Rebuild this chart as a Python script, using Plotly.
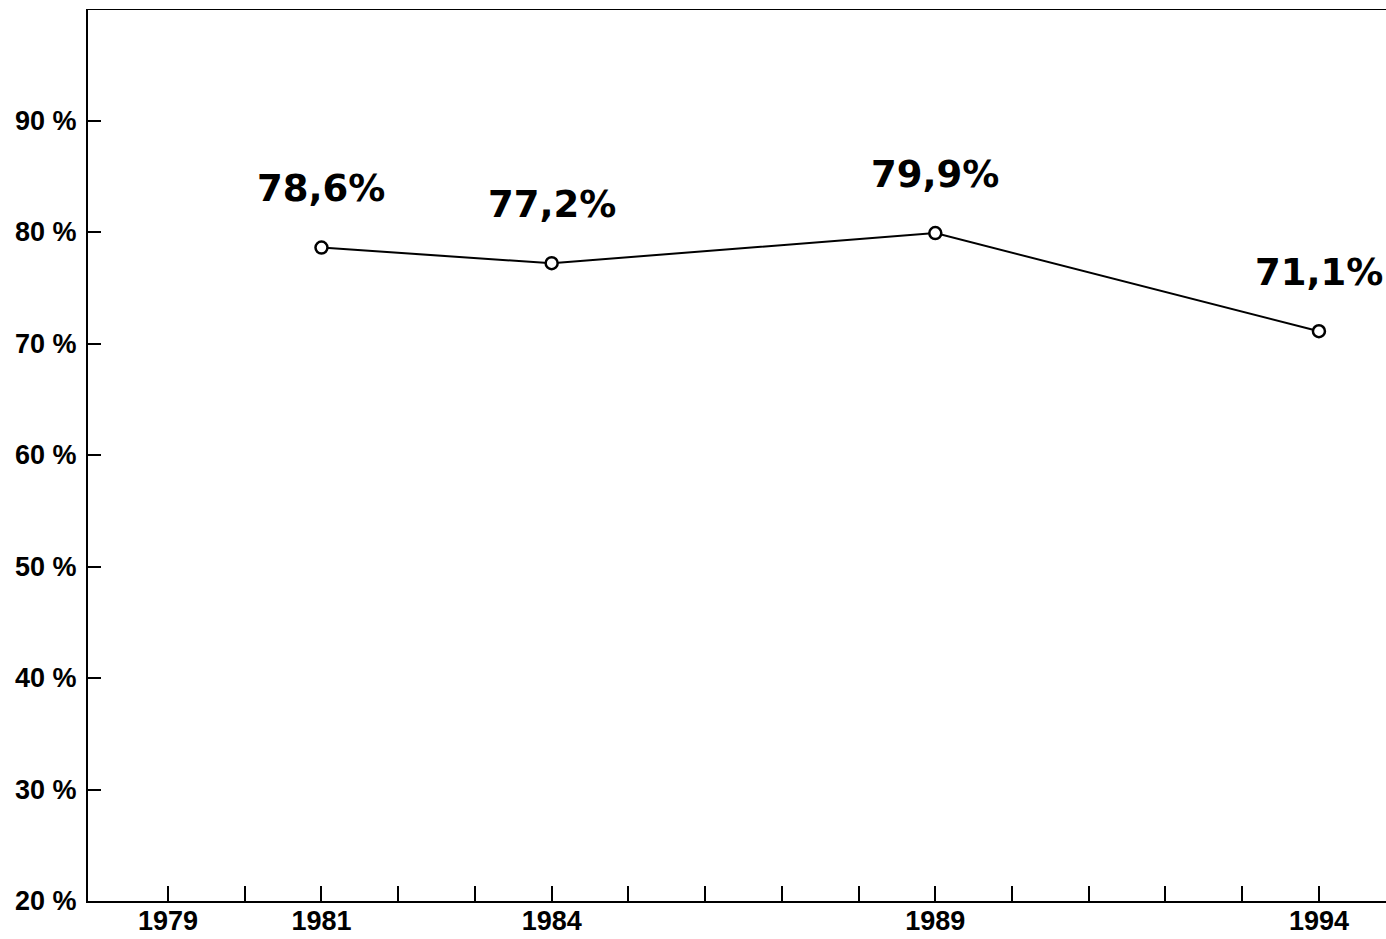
import plotly.graph_objects as go

# Survey years and the share recorded in each
years = [1981, 1984, 1989, 1994]
shares = [78.6, 77.2, 79.9, 71.1]
share_labels = ["78,6%", "77,2%", "79,9%", "71,1%"]

# Axis ticks
x_tick_years = list(range(1979, 1995))
x_labelled_years = [1979, 1981, 1984, 1989, 1994]
y_tick_values = [20, 30, 40, 50, 60, 70, 80, 90]
y_tick_labels = [f"{v} %" for v in y_tick_values]

fig = go.Figure()
fig.add_trace(go.Scatter(
    x=years,
    y=shares,
    mode="lines+markers",
    line=dict(color="black", width=2),
    marker=dict(symbol="circle", size=12, color="white",
                line=dict(color="black", width=2.5)),
    hoverinfo="skip",
    showlegend=False,
))

for yr, val, lab in zip(years, shares, share_labels):
    fig.add_annotation(
        x=yr, y=val, text=lab, showarrow=False,
        xanchor="center", yanchor="middle", yshift=59,
        font=dict(family="DejaVu Sans", size=37, color="black", weight="bold"),
    )

# Frame line along the top of the plotting area
fig.add_shape(type="line", xref="paper", yref="y", x0=0, x1=1, y0=100, y1=100,
              line=dict(color="black", width=2))

fig.update_layout(
    width=1386, height=939,
    margin=dict(l=88, r=0, t=9, b=38),
    paper_bgcolor="white", plot_bgcolor="white",
    font=dict(family="Liberation Sans", color="black"),
)
fig.update_xaxes(
    range=[1977.957, 1994.874],
    tickmode="array",
    tickvals=x_tick_years,
    ticktext=[str(y) if y in x_labelled_years else "" for y in x_tick_years],
    ticks="inside", ticklen=15, tickwidth=2, tickcolor="black",
    ticklabelstandoff=-5,
    showline=True, linecolor="black", linewidth=2,
    showgrid=False, zeroline=False,
    tickfont=dict(family="Liberation Sans", size=27, color="black", weight="bold"),
)
fig.update_yaxes(
    range=[20, 100],
    tickmode="array",
    tickvals=y_tick_values,
    ticktext=y_tick_labels,
    ticks="inside", ticklen=13, tickwidth=2, tickcolor="black",
    ticklabelstandoff=4,
    showline=True, linecolor="black", linewidth=2,
    showgrid=False, zeroline=False,
    tickfont=dict(family="Liberation Sans", size=27, color="black", weight="bold"),
)

fig.write_html("out.html")
